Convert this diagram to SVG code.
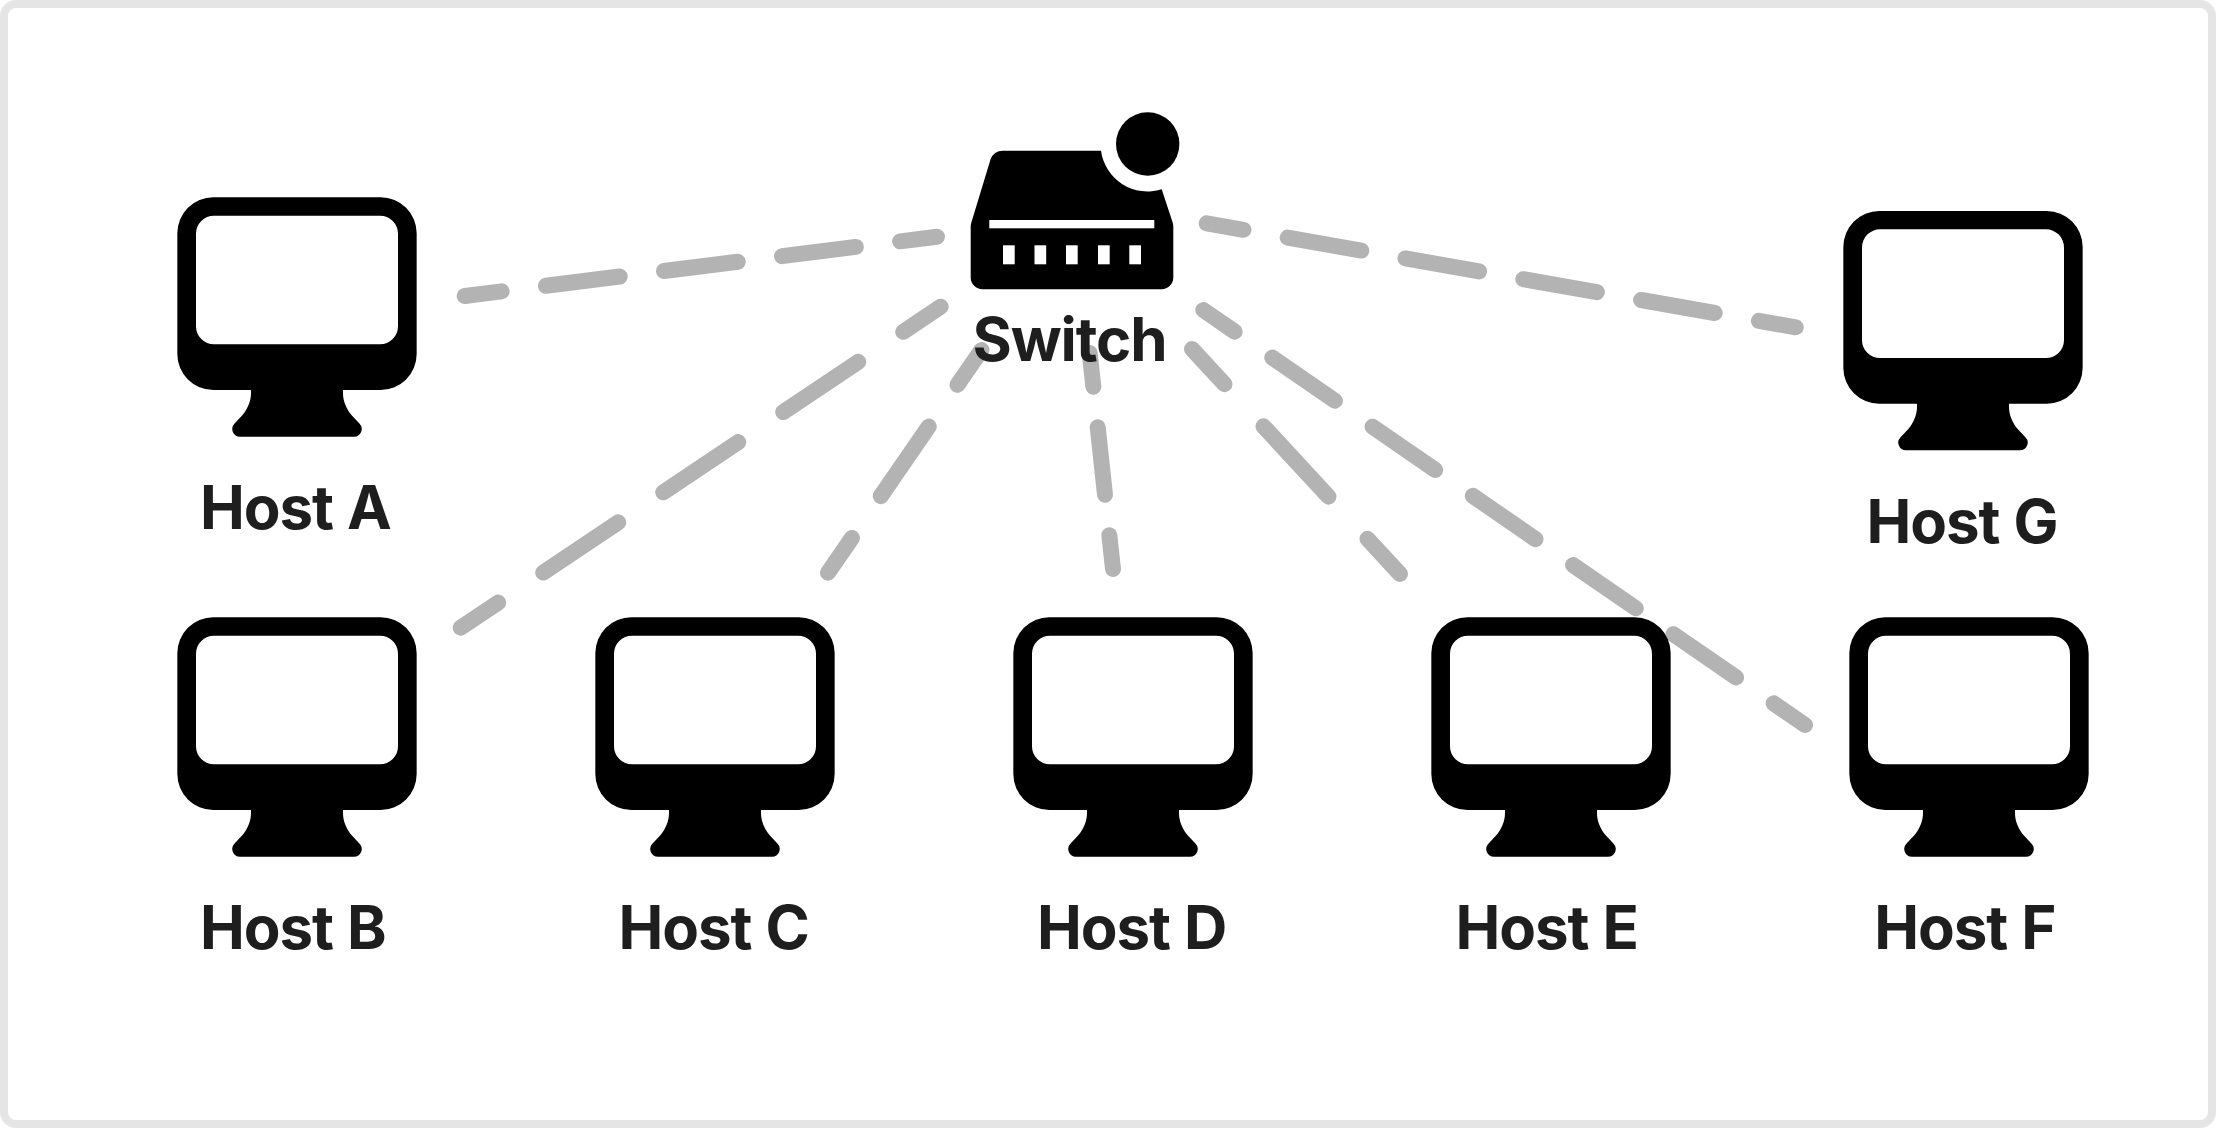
<svg xmlns="http://www.w3.org/2000/svg" xmlns:xlink="http://www.w3.org/1999/xlink" width="2216" height="1128" viewBox="0 0 2216 1128">
<style>
.lbl{font-family:Inter,"Liberation Sans",sans-serif;font-weight:700;font-size:60px;letter-spacing:-1.1px;word-spacing:1px;fill:#1e1e1e;text-anchor:start}
.link{fill:none;stroke:#b3b3b3;stroke-width:16;stroke-linecap:round;stroke-dasharray:5 3;stroke-dashoffset:2.5}
.holes{fill:#fff}
</style>
<defs>
<path id="monitor" fill="#000" fill-rule="evenodd" d="M36 0H203.33A36 36 0 0 1 239.33 36V156.67A36 36 0 0 1 203.33 192.67H165.67V196C165.67 204 169.33 212 174.33 218L182.08 226.15A7.7 7.7 0 0 1 176.63 239.33H62.7A7.7 7.7 0 0 1 57.25 226.15L65 218C70 212 73.67 204 73.67 196V192.67H36A36 36 0 0 1 0 156.67V36A36 36 0 0 1 36 0ZM36.67 18.33A18 18 0 0 0 18.67 36.33V129A18 18 0 0 0 36.67 147H202.67A18 18 0 0 0 220.67 129V36.33A18 18 0 0 0 202.67 18.33Z"/>
</defs>
<rect id="frame" x="4" y="4" width="2208" height="1120" rx="12" fill="#fff" stroke="#e5e5e5" stroke-width="8"/>
<g id="connectors">
<line class="link" pathLength="32" x1="464.7" y1="296" x2="937" y2="236.7"/>
<line class="link" pathLength="32" x1="460.7" y1="627.7" x2="940.7" y2="306.7"/>
<line class="link" pathLength="16" x1="828" y1="572.7" x2="981.5" y2="350"/>
<line class="link" pathLength="16" x1="1113" y1="569" x2="1089.7" y2="353"/>
<line class="link" pathLength="16" x1="1400" y1="574" x2="1192" y2="349"/>
<line class="link" pathLength="48" x1="1805" y1="725" x2="1203.3" y2="310"/>
<line class="link" pathLength="40" x1="1795.7" y1="327.3" x2="1206.7" y2="223.3"/>
</g>
<g id="switch">
<path fill="#000" d="M1003 150.7H1101A47 47 0 0 0 1161.7 189.3L1172.5 222Q1173.3 224.5 1173.3 227V277.5A11.8 11.8 0 0 1 1161.5 289.3H982.5A11.8 11.8 0 0 1 970.7 277.5V227Q970.7 224.5 971.5 222L990.5 159.5Q993.5 150.7 1003 150.7Z"/>
<circle cx="1147.7" cy="144" r="31.7" fill="#000"/>
<g class="holes">
<rect x="989.3" y="220" width="165" height="8.3"/>
<rect x="1003" y="245.3" width="11.7" height="19"/>
<rect x="1034.5" y="245.3" width="11.7" height="19"/>
<rect x="1066" y="245.3" width="11.7" height="19"/>
<rect x="1098" y="245.3" width="11.7" height="19"/>
<rect x="1129.3" y="245.3" width="11.7" height="19"/>
</g>
<text class="lbl" x="972.5" y="360.7">Switch</text>
</g>
<g id="host-a"><use xlink:href="#monitor" href="#monitor" x="177.33" y="197.33"/><text class="lbl" x="200" y="529">Host A</text></g>
<g id="host-b"><use xlink:href="#monitor" href="#monitor" x="177.33" y="617.33"/><text class="lbl" x="200" y="949">Host B</text></g>
<g id="host-c"><use xlink:href="#monitor" href="#monitor" x="595.33" y="617.33"/><text class="lbl" x="618.5" y="949">Host C</text></g>
<g id="host-d"><use xlink:href="#monitor" href="#monitor" x="1013.33" y="617.33"/><text class="lbl" x="1037.1" y="949">Host D</text></g>
<g id="host-e"><use xlink:href="#monitor" href="#monitor" x="1431.33" y="617.33"/><text class="lbl" x="1455.6" y="949">Host E</text></g>
<g id="host-f"><use xlink:href="#monitor" href="#monitor" x="1849.33" y="617.33"/><text class="lbl" x="1874.3" y="949">Host F</text></g>
<g id="host-g"><use xlink:href="#monitor" href="#monitor" x="1843.33" y="211"/><text class="lbl" x="1866.6" y="542.7">Host G</text></g>
</svg>
